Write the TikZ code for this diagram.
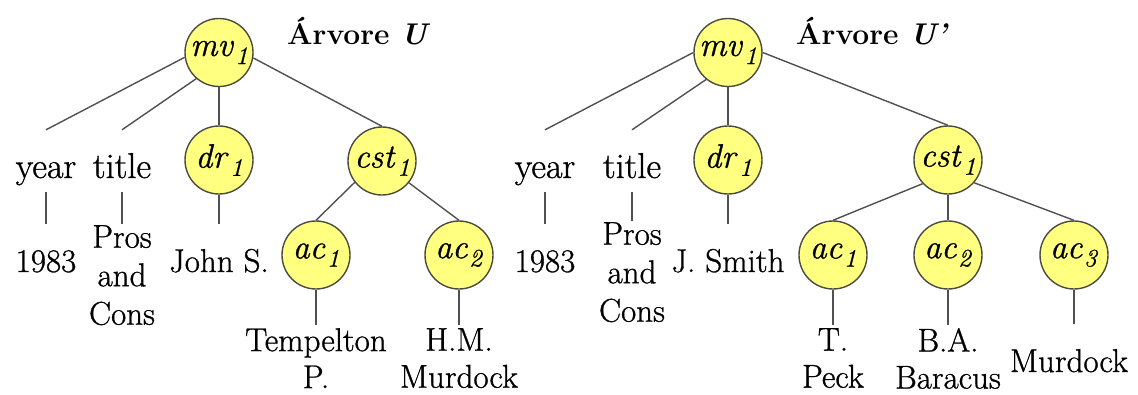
\documentclass[tikz,border=0pt]{standalone}
\usepackage{fontspec}
\setmainfont{Latin Modern Roman}[UprightFeatures={FakeBold=0.9}, ItalicFeatures={FakeBold=0.9}]
% circled node label: italic name with a lowered italic index
\newcommand{\idxlabel}[2]{\textit{#1}\kern1.5pt\raisebox{-0.24em}{\fontsize{25}{25}\selectfont\textit{#2}}}
\begin{document}
\begin{tikzpicture}[x=1pt,y=-1pt,
  vnode/.style={circle, minimum size=68pt, inner sep=0pt,
    draw={rgb,255:red,75;green,75;blue,65}, line width=1.4pt,
    fill={rgb,255:red,255;green,255;blue,128},
    font=\fontsize{34}{36}\selectfont},
  treetitle/.style={anchor=base west, inner sep=0pt, font=\fontsize{30}{34}\selectfont\bfseries},
  attr/.style={anchor=base, inner sep=0pt, text height=48pt, text depth=14pt,
    font=\fontsize{36}{40}\selectfont},
  val/.style={anchor=base, inner sep=0pt, text height=48pt, text depth=6pt,
    font=\fontsize{33}{38.5}\selectfont},
  multi/.style={anchor=north, align=center, inner xsep=0pt, inner ysep=1pt,
    font=\fontsize{33}{38.5}\selectfont},
  names/.style={anchor=north, align=center, inner xsep=0pt, inner ysep=3pt,
    font=\fontsize{33}{37}\selectfont},
  edge/.style={draw={rgb,255:red,80;green,80;blue,80}, line width=1.4pt}
]
\useasboundingbox (0,0) rectangle (1138,394);

% ---------- tree U ----------
\node[vnode] (mvL)  at (219,52.5) {\idxlabel{mv}{1}};
\node[treetitle] (ttlL) at (287,44) {Árvore \textit{U}};
\node[vnode] (drL)  at (219,160) {\idxlabel{dr}{1}};
\node[vnode] (cstL) at (382,161) {\idxlabel{cst}{1}};
\node[vnode] (ac1L) at (316,255) {\idxlabel{ac}{1}};
\node[vnode] (ac2L) at (459,255) {\idxlabel{ac}{2}};

\node[attr] (yearL)  at (46,178)  {year};
\node[attr] (titleL) at (122,178) {title};
\node[val]  (yrL)    at (46,272)  {1983};
\node[multi] (prosL) at (122,224) {Pros\\and\\Cons};
\node[val]  (johnL)  at (219,272) {John S.};
\node[names] (tempL) at (316,325) {Tempelton\\P.};
\node[names] (hmL)   at (459,325) {H.M.\\Murdock};

\draw[edge] (mvL.188) -- (yearL.north);
\draw[edge] (mvL.229) -- (titleL.north);
\draw[edge] (mvL) -- (drL);
\draw[edge] (mvL.351) -- (cstL.north);
\draw[edge] (yearL.south) -- (yrL.north);
\draw[edge] (titleL.south) -- (prosL.north);
\draw[edge] (drL) -- (johnL.north);
\draw[edge] (cstL.218) -- (ac1L.north);
\draw[edge] (cstL.321) -- (ac2L.north);
\draw[edge] (ac1L) -- (tempL.north);
\draw[edge] (ac2L) -- (hmL.north);

% ---------- tree U' ----------
\node[vnode] (mvR)  at (728,52.5) {\idxlabel{mv}{1}};
\node[treetitle] (ttlR) at (796,44) {Árvore \textit{U’}};
\node[vnode] (drR)  at (728,160) {\idxlabel{dr}{1}};
\node[vnode] (cstR) at (948,160) {\idxlabel{cst}{1}};
\node[vnode] (ac1R) at (833,255) {\idxlabel{ac}{1}};
\node[vnode] (ac2R) at (948,255) {\idxlabel{ac}{2}};
\node[vnode] (ac3R) at (1074,255) {\idxlabel{ac}{3}};

\node[attr] (yearR)  at (545,178) {year};
\node[attr] (titleR) at (632,178) {title};
\node[val]  (yrR)    at (545,272) {1983};
\node[multi] (prosR) at (632,221) {Pros\\and\\Cons};
\node[val]  (smithR) at (728,272) {J. Smith};
\node[names] (peckR) at (833,325) {T.\\Peck};
\node[names] (baR)   at (948,325) {B.A.\\Baracus};
\node[val]  (murR)   at (1069,372) {Murdock};

\draw[edge] (mvR.180) -- (yearR.north);
\draw[edge] (mvR.231) -- (titleR.north);
\draw[edge] (mvR) -- (drR);
\draw[edge] (mvR.0) -- (cstR.north);
\draw[edge] (yearR.south) -- (yrR.north);
\draw[edge] (titleR.south) -- (prosR.north);
\draw[edge] (drR) -- (smithR.north);
\draw[edge] (cstR.223) -- (ac1R.north);
\draw[edge] (cstR) -- (ac2R);
\draw[edge] (cstR.319) -- (ac3R.north);
\draw[edge] (ac1R) -- (peckR.north);
\draw[edge] (ac2R) -- (baR.north);
\draw[edge] (ac3R) -- (ac3R |- murR.north);
\end{tikzpicture}
\end{document}
